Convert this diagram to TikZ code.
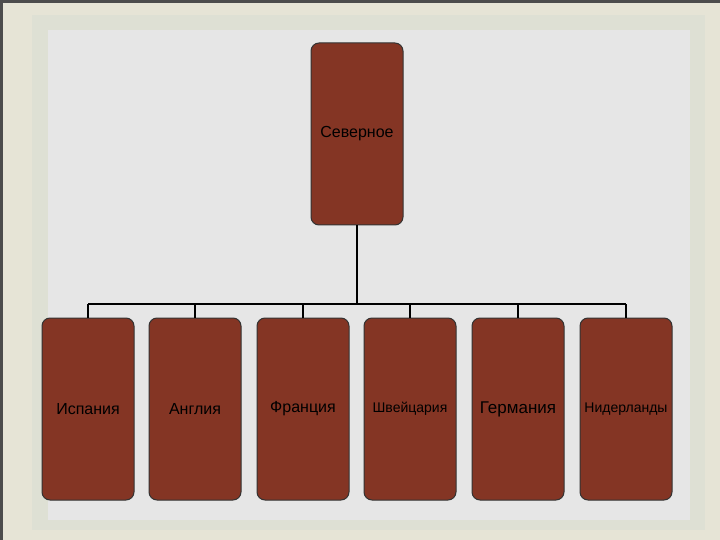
\documentclass[tikz,border=0pt]{standalone}
\usepackage{fontspec}
\setmainfont{Liberation Sans}
\definecolor{brick}{RGB}{132,53,36}
\definecolor{frameA}{RGB}{230,228,214}
\definecolor{frameB}{RGB}{222,224,212}
\definecolor{innerbg}{RGB}{230,230,230}
\begin{document}
\begin{tikzpicture}[x=1pt,y=-1pt,
  box/.style={draw=black!80,line width=1pt,fill=brick,rounded corners=8pt,minimum width=92pt,minimum height=182pt,inner sep=0pt,font=\fontsize{16}{18}\selectfont},
  wire/.style={draw=black,line width=1.5pt}]
\fill[black!70] (0,0) rectangle (720,540);
\fill[frameA] (3,3) rectangle (720,540);
\fill[frameB] (32,15) rectangle (705,530);
\fill[innerbg] (48,30) rectangle (690,520);
\useasboundingbox (0,0) rectangle (720,540);
\node[box] (top) at (357,134) {Северное};
\node[box] (b1) at (88,409) {Испания};
\node[box] (b2) at (195,409) {Англия};
\node[box] (b3) at (303,409) {Франция};
\node[box,font=\fontsize{14}{16}\selectfont] (b4) at (410,409) {Швейцария};
\node[box,font=\fontsize{17}{19}\selectfont] (b5) at (518,409) {Германия};
\node[box,font=\fontsize{14}{16}\selectfont] (b6) at (626,409) {Нидерланды};
\coordinate (bus) at (357,304);
\draw[wire] (top.south) -- (bus);
\foreach \i in {1,...,6}{\draw[wire] (b\i.north) -- (b\i.north |- bus);}
\draw[wire] (b1.north |- bus) -- (b6.north |- bus);
\end{tikzpicture}
\end{document}
